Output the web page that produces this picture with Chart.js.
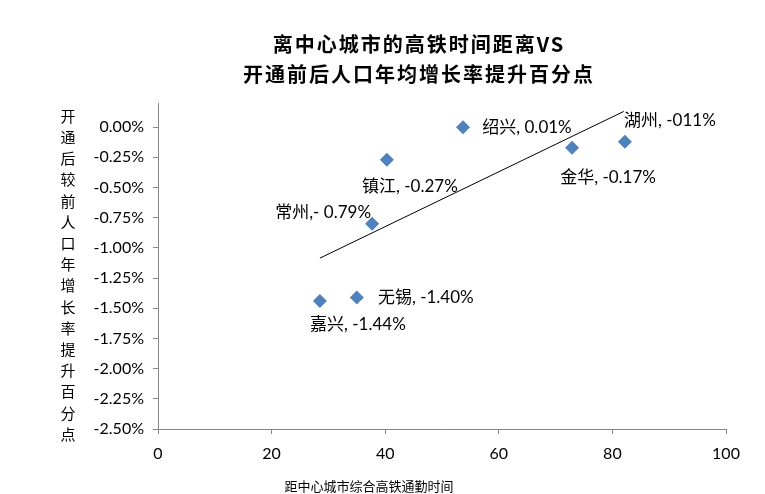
<!DOCTYPE html>
<html>
<head>
<meta charset="utf-8">
<script src="https://cdn.jsdelivr.net/npm/chart.js@4.4.0/dist/chart.umd.min.js"></script>
<style>
  html, body { margin: 0; padding: 0; background: #fff; }
  #wrap { width: 765px; height: 494px; }
</style>
</head>
<body>
<div id="wrap"><canvas id="chartjs-0" width="765" height="494"></canvas></div>
<script>
// data
var cities = ["绍兴", "镇江", "常州", "金华", "湖州", "无锡", "嘉兴"];
var commuteTime = [53.7, 40.3, 37.7, 72.9, 82.2, 35.0, 28.5];
var popGrowth = [0.00, -0.27, -0.80, -0.17, -0.12, -1.41, -1.44];
var pointLabels = ["绍兴, 0.01%", "镇江, -0.27%", "常州,- 0.79%", "金华, -0.17%", "湖州, -011%", "无锡, -1.40%", "嘉兴, -1.44%"];
var trendX = [28.5, 82.0];
var trendY = [-1.085, 0.13];
var xTicks = [0, 20, 40, 60, 80, 100];
var yTicks = [0, -0.25, -0.5, -0.75, -1.0, -1.25, -1.5, -1.75, -2.0, -2.25, -2.5];

var titleLines = ["离中心城市的高铁时间距离VS", "开通前后人口年均增长率提升百分点"];
var yTitle = "开通后较前人口年增长率提升百分点";
var xTitle = "距中心城市综合高铁通勤时间";

// where each label sits relative to its point (text centre, px)
var labelOffsets = [[64, 0], [23, 27], [-49, -11], [36, 30], [45, -21], [69, 0], [38, 24]];

var scatterData = [];
for (var i = 0; i < cities.length; i++) {
    scatterData.push({ x: commuteTime[i], y: popGrowth[i] });
}
var trendData = [];
for (var j = 0; j < trendX.length; j++) {
    trendData.push({ x: trendX[j], y: trendY[j] });
}

var cjk = "'Noto Sans CJK SC', sans-serif";
var numFont = "Lato, 'Noto Sans CJK SC', sans-serif";

var textPlugin = {
    id: "texts",
    afterDraw: function(chart) {
        var ctx = chart.ctx;
        ctx.save();
        ctx.fillStyle = "#000";
        ctx.textAlign = "center";
        ctx.textBaseline = "middle";

        // title
        ctx.font = "bold 20px " + cjk;
        ctx.letterSpacing = "2px";
        ctx.fillText(titleLines[0], 419, 44);
        ctx.fillText(titleLines[1], 419, 74);
        ctx.letterSpacing = "0px";

        // vertical y title
        ctx.font = "15px " + cjk;
        for (var k = 0; k < yTitle.length; k++) {
            ctx.fillText(yTitle[k], 68, 116 + k * 21.2);
        }

        // x title
        ctx.font = "13px " + cjk;
        ctx.fillText(xTitle, 369, 486);

        // point labels
        var meta = chart.getDatasetMeta(0);
        ctx.font = "17px " + numFont;
        for (var n = 0; n < meta.data.length; n++) {
            var p = meta.data[n];
            ctx.fillText(pointLabels[n], p.x + labelOffsets[n][0], p.y + labelOffsets[n][1]);
        }
        ctx.restore();
    }
};

var ctx0 = document.getElementById("chartjs-0");
var myChart = new Chart(ctx0, {
    type: "scatter",
    data: {
        datasets: [{
            label: "城市",
            data: scatterData,
            pointStyle: "rectRot",
            pointRadius: 7,
            pointHoverRadius: 7,
            backgroundColor: "#4F81BD",
            borderColor: "#4F81BD",
            borderWidth: 0
        }, {
            type: "line",
            label: "趋势线",
            data: trendData,
            borderColor: "#000",
            borderWidth: 1,
            pointRadius: 0,
            fill: false
        }]
    },
    options: {
        responsive: false,
        animation: false,
        layout: { padding: { left: 0, right: 39, top: 103, bottom: 0 } },
        plugins: {
            legend: { display: false },
            title: { display: false },
            tooltip: { enabled: false }
        },
        scales: {
            x: {
                type: "linear",
                min: 0,
                max: 100,
                afterFit: function(s) { s.height = 65; },
                afterBuildTicks: function(s) {
                    s.ticks = xTicks.map(function(v) { return { value: v }; });
                },
                grid: { drawOnChartArea: false, color: "#868686", tickLength: 5 },
                border: { color: "#868686", width: 1 },
                ticks: {
                    color: "#000",
                    padding: 10,
                    maxRotation: 0,
                    font: { family: numFont, size: 16 }
                }
            },
            y: {
                type: "linear",
                min: -2.5,
                max: 0.2,
                afterFit: function(s) { s.width = 158; },
                afterBuildTicks: function(s) {
                    s.ticks = yTicks.map(function(v) { return { value: v }; });
                },
                grid: { drawOnChartArea: false, color: "#868686", tickLength: 5 },
                border: { color: "#868686", width: 1 },
                ticks: {
                    color: "#000",
                    padding: 9,
                    font: { family: numFont, size: 16 },
                    callback: function(v) { return v.toFixed(2) + "%"; }
                }
            }
        }
    },
    plugins: [textPlugin]
});
</script>
</body>
</html>
